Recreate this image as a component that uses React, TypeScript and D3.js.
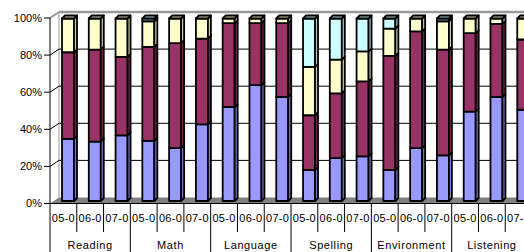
import React from "react";
import * as d3 from "d3";

const categories = ["Reading", "Math", "Language", "Spelling", "Environment", "Listening"];
const years = ["05-0", "06-0", "07-0"];
const seriesKeys = ["s1", "s2", "s3", "s4"];
// values per bar, in order category x year
const s1 = [34, 32.5, 36, 33, 29, 42, 51.5, 63.5, 57, 17, 23.5, 24.5, 17, 29, 25, 49, 57, 50];
const s2 = [47.5, 50.5, 43, 51.5, 57.5, 47, 46, 34, 40.5, 30, 35.5, 41, 62.5, 64, 58, 43, 40, 38.5];
const s3 = [18.5, 17, 21, 14, 13.5, 11, 2.5, 2.5, 2.5, 26.5, 18.5, 16.5, 15, 7, 15.5, 8, 3, 11.5];
const s4 = [0, 0, 0, 1.5, 0, 0, 0, 0, 0, 26.5, 22.5, 18, 5.5, 0, 1.5, 0, 0, 0];
const yTicks = [0, 20, 40, 60, 80, 100];

const fronts = ["#9999FF", "#993366", "#FFFFCC", "#CCFFFF"];
const sides = ["#7777CC", "#74264D", "#CCCCA0", "#A0CCCC"];

export default function App() {
  const W = 524, H = 252;
  const axisX = 50;
  const slotW = 26.78;
  const DX = 9, DY = -6;
  const slots: string[] = [];
  categories.forEach((c) => years.forEach((y) => slots.push(c + "|" + y)));
  const x = d3.scaleBand<string>().domain(slots).range([axisX, axisX + slotW * slots.length]).padding(0);
  const yAxis = d3.scaleLinear().domain([0, 100]).range([203.5, 18]);
  const yBar = d3.scaleLinear().domain([0, 100]).range([201, 18.5]);

  const rows = slots.map((s, i) => ({ key: s, s1: s1[i], s2: s2[i], s3: s3[i], s4: s4[i] }));
  const stacked = d3.stack<any>().keys(seriesKeys)(rows);

  const bw = 12, bdx = 3, bdy = -3, boff = 12;

  const bars: JSX.Element[] = [];
  rows.forEach((r, i) => {
    const x0 = (x(r.key) as number) + boff;
    let topIdx = -1;
    seriesKeys.forEach((k, si) => { if ((r as any)[k] > 0) topIdx = si; });
    seriesKeys.forEach((k, si) => {
      const seg = stacked[si][i];
      if (seg[1] - seg[0] <= 0) return;
      const yt = yBar(seg[1]);
      const yb = yBar(seg[0]);
      bars.push(
        <g key={r.key + k} stroke="#000" strokeWidth={1.8} strokeLinejoin="round">
          <rect x={x0} y={yt} width={bw} height={yb - yt} fill={fronts[si]} />
          <polygon
            points={`${x0 + bw},${yt} ${x0 + bw + bdx},${yt + bdy} ${x0 + bw + bdx},${yb + bdy} ${x0 + bw},${yb}`}
            fill={sides[si]}
          />
          {si === topIdx && (
            <polygon
              points={`${x0},${yt} ${x0 + bdx},${yt + bdy} ${x0 + bw + bdx},${yt + bdy} ${x0 + bw},${yt}`}
              fill={sides[si]}
            />
          )}
        </g>
      );
    });
  });

  const fontFamily = "'Liberation Sans', Arial, sans-serif";
  const right = W;

  return (
    <svg width={W} height={H} style={{ position: "absolute", left: 0, top: 0, background: "#fff" }} fontFamily={fontFamily}>
      <rect x={0} y={0} width={W} height={H} fill="#fff" />
      <line x1={axisX + DX} y1={yAxis(100) + DY} x2={axisX + DX} y2={yAxis(0) + DY} stroke="#999" strokeWidth={1} />
      {yTicks.map((t) => (
        <g key={"g" + t}>
          {t > 0 && t < 100 && (
            <line x1={axisX + DX} y1={yAxis(t) + DY} x2={right} y2={yAxis(t) + DY} stroke="#000" strokeWidth={1} />
          )}
          {t < 100 && t > 0 && (
            <line x1={axisX} y1={yAxis(t)} x2={axisX + DX} y2={yAxis(t) + DY} stroke="#000" strokeWidth={1} />
          )}
        </g>
      ))}
      <line x1={axisX} y1={yAxis(100)} x2={axisX + DX} y2={yAxis(100) + DY} stroke="#999" strokeWidth={2} />
      <line x1={axisX + DX} y1={yAxis(100) + DY} x2={right} y2={yAxis(100) + DY} stroke="#999" strokeWidth={2.5} />
      <polygon
        points={`${axisX},${yAxis(0)} ${axisX + DX},${yAxis(0) + DY} ${right},${yAxis(0) + DY} ${right},${yAxis(0)}`}
        fill="#808080"
      />
      {bars}
      <line x1={axisX} y1={yAxis(100)} x2={axisX} y2={yAxis(0)} stroke="#000" strokeWidth={1} />
      {yTicks.map((t) => (
        <g key={"t" + t}>
          <line x1={axisX - 6} y1={yAxis(t)} x2={axisX} y2={yAxis(t)} stroke="#000" strokeWidth={1} />
          <text x={42} y={yAxis(t)} dy="0.35em" textAnchor="end" fontSize={11} fill="#000">{t + "%"}</text>
        </g>
      ))}
      <line x1={axisX} y1={yAxis(0)} x2={right} y2={yAxis(0)} stroke="#000" strokeWidth={1} />
      {slots.map((s, i) => {
        const sx = x(s) as number;
        const isCat = i % 3 === 0;
        return (
          <g key={"x" + s}>
            <line x1={sx} y1={yAxis(0)} x2={sx} y2={isCat ? H : 232} stroke="#000" strokeWidth={1} />
            <text x={sx + slotW / 2} y={221.5} textAnchor="middle" fontSize={11} letterSpacing={0.3} fill="#000">
              {s.split("|")[1]}
            </text>
          </g>
        );
      })}
      <line x1={axisX + slotW * slots.length} y1={yAxis(0)} x2={axisX + slotW * slots.length} y2={H} stroke="#000" />
      {categories.map((c, ci) => (
        <text key={"c" + c} x={axisX + slotW * 3 * ci + slotW * 1.5} y={249} textAnchor="middle" fontSize={11} letterSpacing={0.6} fill="#000">
          {c}
        </text>
      ))}
    </svg>
  );
}
